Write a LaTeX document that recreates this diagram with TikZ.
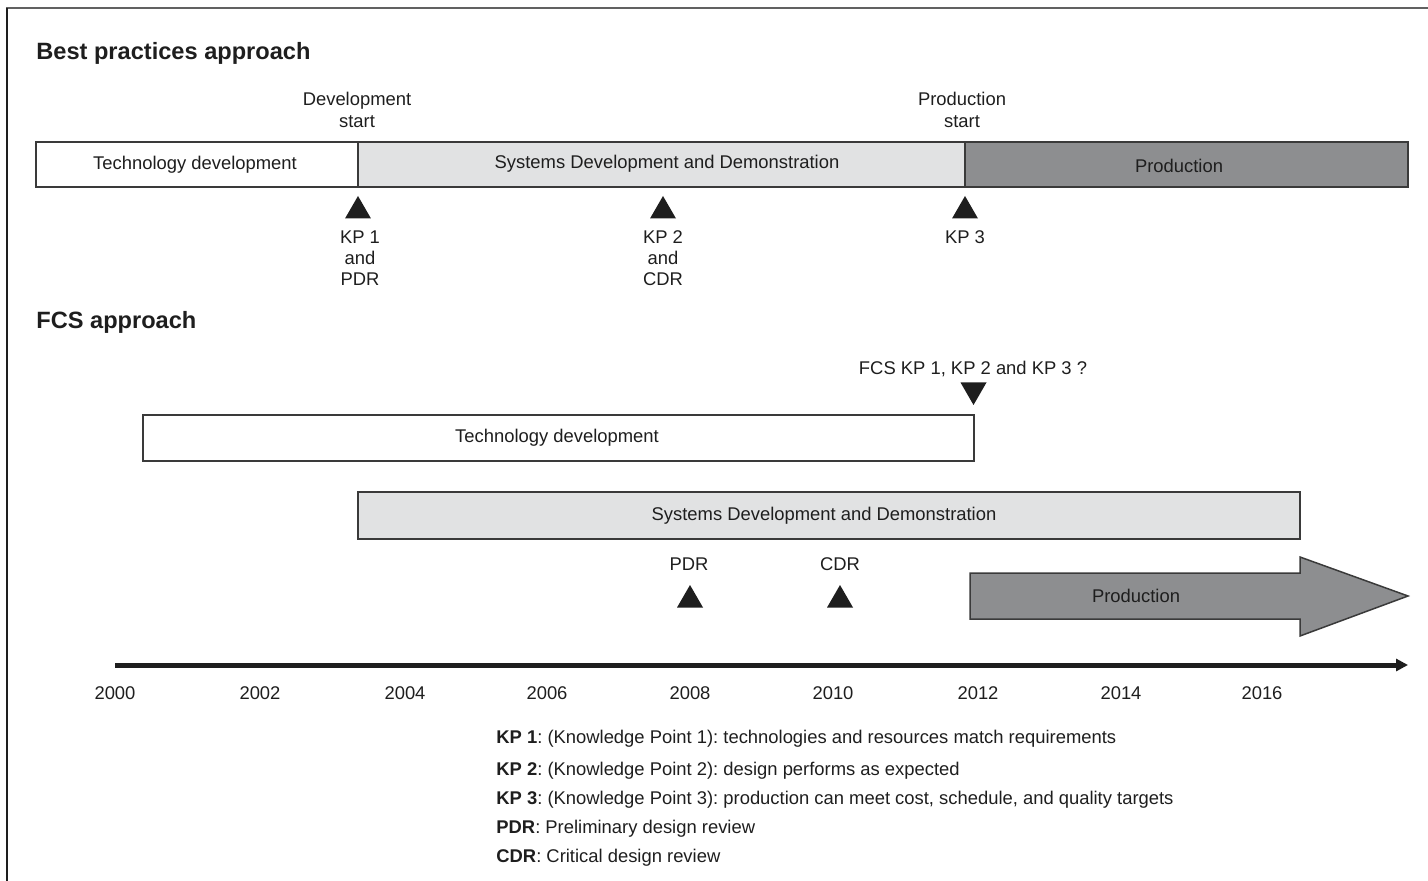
\documentclass[tikz,border=0pt]{standalone}
\usepackage{fontspec}
\setmainfont{Liberation Sans}
\usetikzlibrary{shapes.geometric,arrows.meta}
\definecolor{edge}{HTML}{3A3A3A}
\definecolor{lightbar}{HTML}{E1E2E3}
\definecolor{darkbar}{HTML}{8D8E90}
\definecolor{ink}{HTML}{1E1E1E}
\tikzset{
  lbl/.style={font=\fontsize{9.2pt}{10.6pt}\selectfont, text=ink, inner sep=0pt, align=center},
  ttl/.style={font=\fontsize{11.8pt}{14pt}\selectfont\bfseries, text=ink, inner sep=0pt, anchor=west},
  bar/.style={draw=edge, line width=0.75pt, inner sep=0pt},
  uptri/.style={regular polygon, regular polygon sides=3, minimum size=15pt, inner sep=0pt, fill=ink},
  downtri/.style={uptri, shape border rotate=180},
  leg/.style={lbl, anchor=west, align=left},
}
\begin{document}
\frenchspacing
\begin{tikzpicture}[x=0.5pt,y=-0.5pt]
\useasboundingbox (0,0) rectangle (1428,881);
% frame
\draw[edge!80, line width=0.9pt] (6,8) -- (1428,8);
\draw[ink, line width=1pt] (7,8) -- (7,881);

% ---- Best practices approach
\node[ttl] (t1) at (36,53) {Best practices approach};
\node[lbl] (devstart) at (357,110) {Development\\start};
\node[lbl] (prodstart) at (962,110) {Production\\start};

\node[bar, fill=white, minimum width=161pt, minimum height=22.5pt] (tdA) at (197,164.5) {};
\node[bar, fill=lightbar, minimum width=303.5pt, minimum height=22.5pt] (sddA) at (661.5,164.5) {};
\node[bar, fill=darkbar, minimum width=221.5pt, minimum height=22.5pt] (prodA) at (1186.5,164.5) {};
\node[lbl] (tdAl) at (195,165) {Technology development};
\node[lbl] (sddAl) at (667,164) {Systems Development and Demonstration};
\node[lbl] (prodAl) at (1179,166) {Production};

\node[uptri] (kp1) at (358,211) {};
\node[uptri] (kp2) at (663,211) {};
\node[uptri] (kp3) at (965,211) {};
\node[lbl] (kp1l) at (360,258) {KP 1\\and\\PDR};
\node[lbl] (kp2l) at (663,258) {KP 2\\and\\CDR};
\node[lbl] (kp3l) at (965,237) {KP 3};

% ---- FCS approach
\node[ttl] (t2) at (36,322) {FCS approach};
\node[lbl] (fcskp) at (973,369) {FCS KP 1, KP 2 and KP 3 ?};
\node[downtri] (fcstri) at (973.5,390) {};

\node[bar, fill=white, minimum width=415.5pt, minimum height=23pt] (tdB) at (558.5,438) {};
\node[bar, fill=lightbar, minimum width=471pt, minimum height=23.5pt] (sddB) at (829,515.5) {};
\node[lbl] (tdBl) at (557,438) {Technology development};
\node[lbl] (sddBl) at (824,516) {Systems Development and Demonstration};

\node[lbl] (pdrl) at (689,564) {PDR};
\node[lbl] (cdrl) at (840,564) {CDR};
\node[uptri] (pdr) at (690,600) {};
\node[uptri] (cdr) at (840,600) {};

\draw[edge, line width=0.75pt, fill=darkbar] (970,573) -- (1300,573) -- (1300,557) -- (1408,596) -- (1300,636) -- (1300,619) -- (970,619) -- cycle;
\node[lbl] (prodB) at (1136,596) {Production};

% ---- timeline
\coordinate (tl0) at (115,665);
\coordinate (tl1) at (1408,665);
\draw[ink, line width=2.5pt, -{Triangle[length=6pt,width=6pt]}] (tl0) -- (tl1);
\foreach \yr/\xx in {2000/115,2002/260,2004/405,2006/547,2008/690,2010/833,2012/978,2014/1121,2016/1262}
  \node[lbl] (y\yr) at (\xx,693) {\yr};

% ---- legend
\node[leg] (l1) at (496,739) {\textbf{KP 1}: (Knowledge Point 1): technologies and resources match requirements};
\node[leg] (l2) at (496,771) {\textbf{KP 2}: (Knowledge Point 2): design performs as expected};
\node[leg] (l3) at (496,800) {\textbf{KP 3}: (Knowledge Point 3): production can meet cost, schedule, and quality targets};
\node[leg] (l4) at (496,829) {\textbf{PDR}: Preliminary design review};
\node[leg] (l5) at (496,858) {\textbf{CDR}: Critical design review};
\end{tikzpicture}
\end{document}
